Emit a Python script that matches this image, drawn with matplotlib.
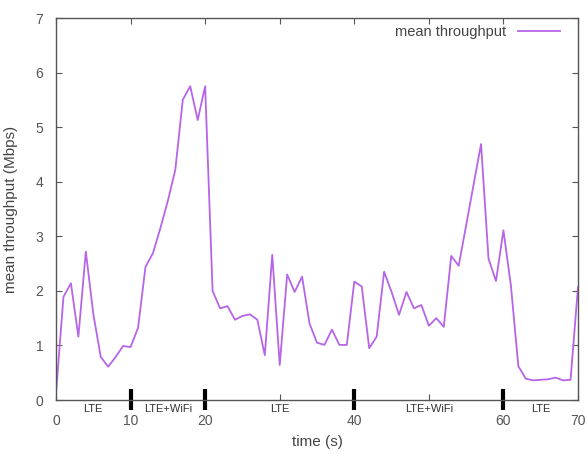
import numpy as np
import matplotlib.pyplot as plt
import matplotlib.transforms as mtransforms

plt.rcParams['font.family'] = ['Liberation Sans', 'DejaVu Sans']

# mean throughput per second (Mbps)
time_s = list(range(0, 71))
throughput = [0.12, 1.89, 2.14, 1.16, 2.72, 1.58, 0.79, 0.61, 0.79, 0.99,
              0.97, 1.32, 2.44, 2.69, 3.15, 3.65, 4.22, 5.5, 5.75, 5.13,
              5.75, 2.0, 1.68, 1.72, 1.47, 1.54, 1.57, 1.47, 0.82, 2.66,
              0.64, 2.3, 1.98, 2.26, 1.4, 1.05, 1.01, 1.29, 1.01, 1.01,
              2.17, 2.08, 0.95, 1.16, 2.35, 1.98, 1.56, 1.98, 1.68, 1.74,
              1.36, 1.5, 1.34, 2.64, 2.46, 3.2, 3.95, 4.69, 2.59, 2.18,
              3.11, 2.1, 0.62, 0.39, 0.36, 0.37, 0.38, 0.41, 0.36, 0.37,
              2.07]

# network segments along the time axis
seg_bounds = [0, 10, 20, 40, 60, 70]
seg_names = ['LTE', 'LTE+WiFi', 'LTE', 'LTE+WiFi', 'LTE']
xticks = [0, 10, 20, 30, 40, 50, 60, 70]
xtick_labels = ['0', '10', '20', '', '40', '', '60', '70']

fig = plt.figure(figsize=(5.88, 4.58), dpi=100)
ax = fig.add_axes([56 / 588, 58 / 458, 522 / 588, 382 / 458])

ax.plot(time_s, throughput, color='#b765e8', lw=1.3, label='mean throughput')

ax.set_xlim(0, 70)
ax.set_ylim(0, 7)
ax.set_xticks(xticks)
ax.set_xticklabels(xtick_labels)
ax.set_yticks(range(0, 8))
ax.tick_params(direction='in', length=4, width=0.8, color='#555555',
               top=True, right=True, labelsize=10, labelcolor='#555555')
ax.tick_params(axis='x', pad=10)
ax.tick_params(axis='y', pad=9)
for s in ax.spines.values():
    s.set_color('#555555')
    s.set_linewidth(1.0)

# thick markers at segment boundaries + segment labels
trans = mtransforms.blended_transform_factory(ax.transData, ax.transAxes)
for b in seg_bounds[1:-1]:
    ax.plot([b, b], [-0.025, 0.028], color='black', lw=3, transform=trans,
            clip_on=False, solid_capstyle='butt')
for i, name in enumerate(seg_names):
    mid = (seg_bounds[i] + seg_bounds[i + 1]) / 2
    ax.text(mid, -0.024, name, transform=trans, ha='center', va='center',
            fontsize=8, color='#333333')

ax.set_xlabel('time (s)', fontsize=11, color='#444444', labelpad=5)
ax.set_ylabel('mean throughput (Mbps)', fontsize=11, color='#444444', labelpad=13)

ax.legend(loc='upper right', frameon=False, markerfirst=False, fontsize=10.5,
          handlelength=2.9, labelcolor='#444444', borderaxespad=0.2,
          bbox_to_anchor=(0.982, 1.005))

fig.savefig('out.png', dpi=100)
